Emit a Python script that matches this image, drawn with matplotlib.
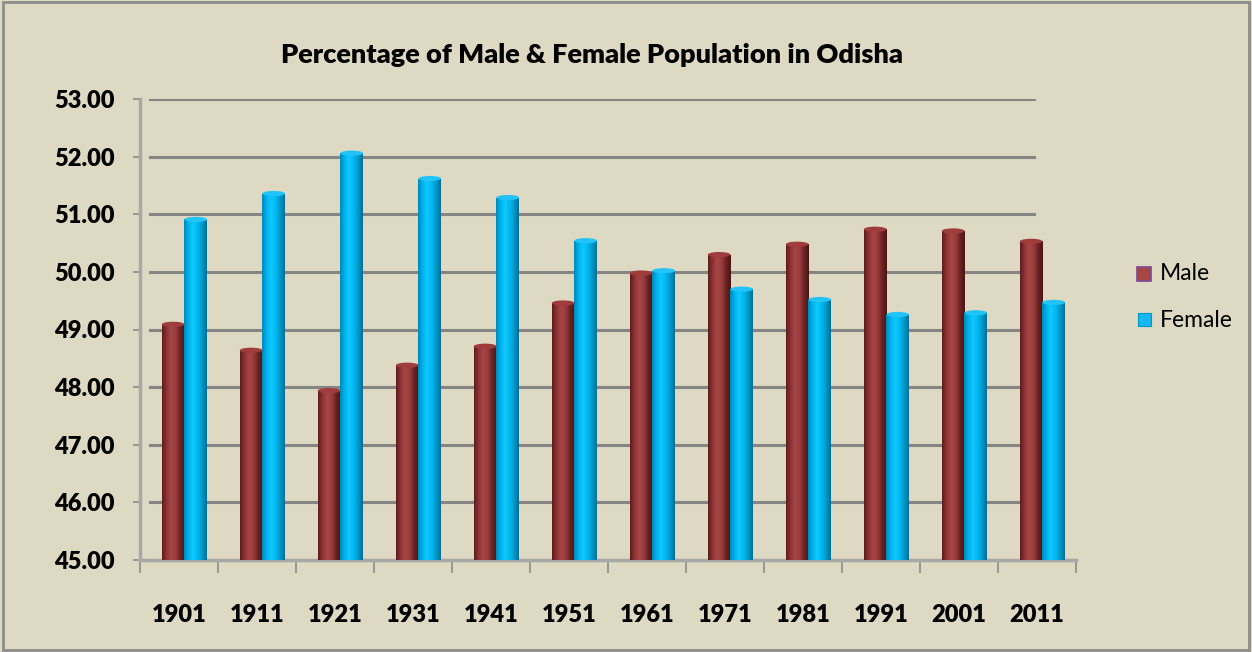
import numpy as np
import matplotlib
matplotlib.use("Agg")
import matplotlib.pyplot as plt
from matplotlib.patches import Rectangle, Ellipse
from matplotlib.colors import LinearSegmentedColormap

years = ['1901', '1911', '1921', '1931', '1941', '1951', '1961', '1971', '1981', '1991', '2001', '2011']
male = [49.09, 48.64, 47.94, 48.38, 48.71, 49.46, 49.98, 50.30, 50.48, 50.74, 50.71, 50.53]
female = [50.91, 51.36, 52.06, 51.62, 51.29, 50.54, 50.02, 49.70, 49.52, 49.26, 49.29, 49.47]
yticks = [45, 46, 47, 48, 49, 50, 51, 52, 53]

bg = '#DDD9C3'
plt.rcParams['font.family'] = ['Lato', 'DejaVu Sans']

fig = plt.figure(figsize=(12.52, 6.52), dpi=100, facecolor=bg)
ax = fig.add_axes([140 / 1252, 92 / 652, 936 / 1252, 461 / 652])
ax.set_facecolor(bg)

# outer border
fig.patches.append(Rectangle((0.002, 0.003), 0.996, 0.994, transform=fig.transFigure,
                             fill=False, edgecolor='#8C8C8C', linewidth=2))

ax.set_ylim(45, 53)

# back-wall gridlines
for v in yticks:
    ax.axhline(v, xmin=10 / 936, xmax=894 / 936, color='#858585', linewidth=2.2, zorder=1)

male_cmap = LinearSegmentedColormap.from_list('m', ['#5E1C1C', '#8E3434', '#A84646', '#9A3C3C', '#6A2222', '#4A1414'])
fem_cmap = LinearSegmentedColormap.from_list('f', ['#0088B8', '#00B4EC', '#10C8FF', '#00B8F0', '#0098C8', '#006E98'])

x = np.arange(len(years))
w = 0.29
shift = 0.07
grad = np.linspace(0, 1, 64).reshape(1, -1)

def cyl(xs, vals, cmap, cap_color):
    bars = ax.bar(xs, np.array(vals) - 45, w, bottom=45, color='none', edgecolor='none', zorder=3)
    for b in bars:
        x0, y0 = b.get_x(), b.get_y()
        bw, bh = b.get_width(), b.get_height()
        im = ax.imshow(grad, cmap=cmap, aspect='auto', extent=(x0, x0 + bw, y0, y0 + bh),
                       zorder=3, interpolation='bicubic')
        im.set_clip_path(b)
        ax.add_patch(Ellipse((x0 + bw / 2, y0 + bh), bw, 0.09, facecolor=cap_color,
                             edgecolor='none', zorder=4))
    return bars

cyl(x - w / 2 + shift, male, male_cmap, '#A03C3C')
cyl(x + w / 2 + shift, female, fem_cmap, '#22C4F8')
ax.set_xlim(-0.5, len(years) - 0.5)

ax.set_yticks(yticks)
ax.set_yticklabels(['%.2f' % v for v in yticks], fontsize=17, fontweight='heavy')
ax.set_xticks(x)
ax.set_xticklabels(years, fontsize=17, fontweight='heavy')
ax.set_xticks(np.arange(len(years) + 1) - 0.5, minor=True)
ax.tick_params(axis='x', which='major', length=0, pad=32)
ax.tick_params(axis='x', which='minor', length=9, width=1.2, color='#8C8C8C')
ax.tick_params(axis='y', length=5, width=1.2, color='#8C8C8C', pad=13)

for s in ['top', 'right']:
    ax.spines[s].set_visible(False)
ax.spines['left'].set_color('#A8A8A8')
ax.spines['left'].set_linewidth(2.5)
ax.spines['bottom'].set_color('#A8A8A8')
ax.spines['bottom'].set_linewidth(2.5)

fig.text(592 / 1252, 1 - 55 / 652, 'Percentage of Male & Female Population in Odisha',
         ha='center', va='center', fontsize=19.5, fontweight='heavy')

# legend
fig.patches.append(Rectangle((1137 / 1252, 1 - 281 / 652), 14 / 1252, 14 / 652, transform=fig.transFigure,
                             facecolor='#A84646', edgecolor='#7A4A9A', linewidth=1.2))
fig.patches.append(Rectangle((1138 / 1252, 1 - 326 / 652), 13 / 1252, 13 / 652, transform=fig.transFigure,
                             facecolor='#16B8EE', edgecolor='#0098C8', linewidth=0.8))
fig.text(1160 / 1252, 1 - 274 / 652, 'Male', fontsize=16.5, va='center')
fig.text(1160 / 1252, 1 - 320 / 652, 'Female', fontsize=16.5, va='center')

fig.savefig('out.png', dpi=100, facecolor=bg)
